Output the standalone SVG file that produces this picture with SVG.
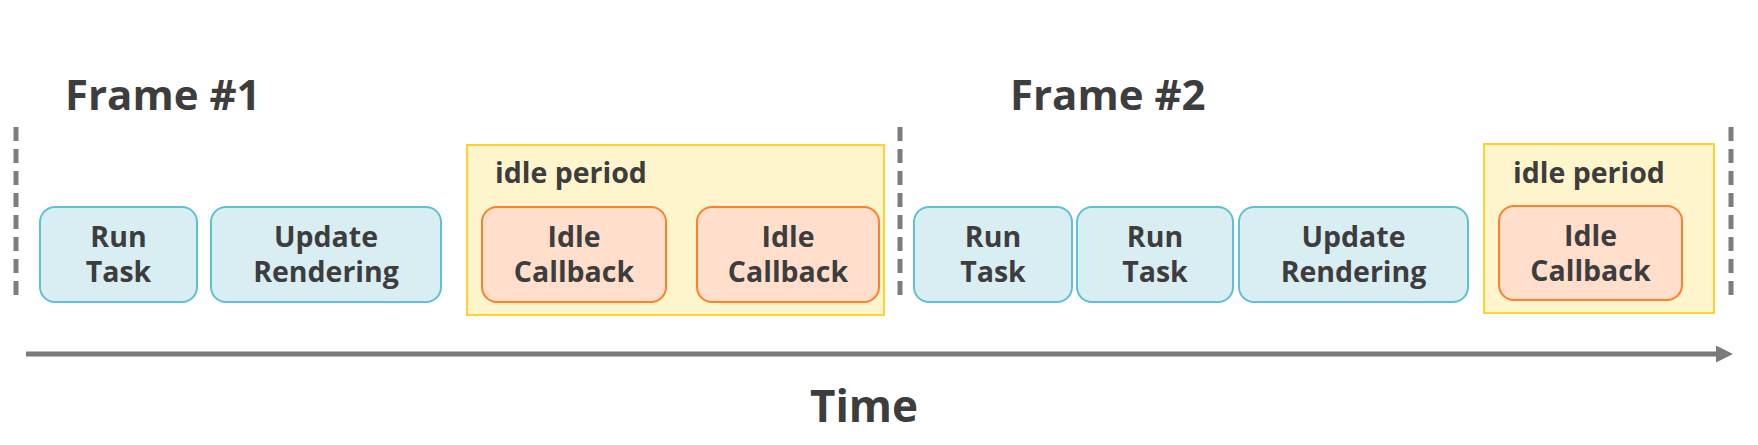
<svg xmlns="http://www.w3.org/2000/svg" width="1758" height="445" viewBox="0 0 1758 445">
<defs>
<style>
.t{font-family:"Open Sans","Noto Sans",sans-serif;font-weight:700;fill:#3d3d3d;}
.h{font-size:42px;}
.b{font-size:28.5px;text-anchor:middle;}
.p{font-size:28.5px;}
.task{fill:#d8eef3;stroke:#5cc2d2;stroke-width:2;}
.cb{fill:#ffdfcc;stroke:#ff7f2a;stroke-width:2;}
.idle{fill:#fff5cc;stroke:#ffd22e;stroke-width:2;}
.dash{stroke:#7d7d7d;stroke-width:5;stroke-dasharray:14 8;fill:none;}
</style>
<marker id="ah" markerWidth="17" markerHeight="17" refX="0" refY="8.5" orient="auto" markerUnits="userSpaceOnUse">
<path d="M0,0 L17,8.5 L0,17 Z" fill="#7a7a7a"/>
</marker>
</defs>
<rect width="1758" height="445" fill="#fff"/>
<g id="labels">
<text class="t h" x="65" y="110">Frame #1</text>
<text class="t h" x="1010" y="110">Frame #2</text>
<text class="t h" x="864" y="422" text-anchor="middle" style="font-size:44px">Time</text>
</g>
<g id="connectors">
<line class="dash" x1="16" y1="127" x2="16" y2="295"/>
<line class="dash" x1="900" y1="127" x2="900" y2="295"/>
<line class="dash" x1="1731" y1="127" x2="1731" y2="295"/>
<line x1="26" y1="354" x2="1716" y2="354" stroke="#7a7a7a" stroke-width="5" marker-end="url(#ah)"/>
</g>
<g id="idle1">
<rect class="idle" x="467" y="145" width="417" height="170"/>
<text class="t p" x="495" y="183">idle period</text>
</g>
<g id="idle2">
<rect class="idle" x="1484" y="144" width="230" height="169"/>
<text class="t p" x="1513" y="183">idle period</text>
</g>
<g id="run1">
<rect class="task" x="40" y="207" width="157" height="95" rx="15"/>
<text class="t b" x="118.5" y="247">Run</text><text class="t b" x="118.5" y="282">Task</text>
</g>
<g id="update1">
<rect class="task" x="211" y="207" width="230" height="95" rx="15"/>
<text class="t b" x="326" y="247">Update</text><text class="t b" x="326" y="282">Rendering</text>
</g>
<g id="cb1">
<rect class="cb" x="482" y="207" width="184" height="95" rx="15"/>
<text class="t b" x="574" y="247">Idle</text><text class="t b" x="574" y="282">Callback</text>
</g>
<g id="cb2">
<rect class="cb" x="697" y="207" width="182" height="95" rx="15"/>
<text class="t b" x="788" y="247">Idle</text><text class="t b" x="788" y="282">Callback</text>
</g>
<g id="run2">
<rect class="task" x="914" y="207" width="158" height="95" rx="15"/>
<text class="t b" x="993" y="247">Run</text><text class="t b" x="993" y="282">Task</text>
</g>
<g id="run3">
<rect class="task" x="1077" y="207" width="156" height="95" rx="15"/>
<text class="t b" x="1155" y="247">Run</text><text class="t b" x="1155" y="282">Task</text>
</g>
<g id="update2">
<rect class="task" x="1239" y="207" width="229" height="95" rx="15"/>
<text class="t b" x="1353.5" y="247">Update</text><text class="t b" x="1353.5" y="282">Rendering</text>
</g>
<g id="cb3">
<rect class="cb" x="1499" y="206" width="183" height="94" rx="15"/>
<text class="t b" x="1590.5" y="246">Idle</text><text class="t b" x="1590.5" y="281">Callback</text>
</g>
</svg>
